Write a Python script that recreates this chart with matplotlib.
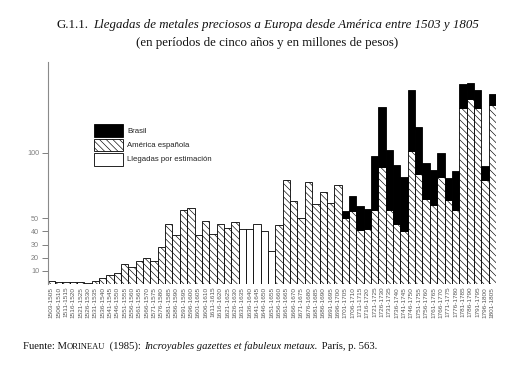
import matplotlib
matplotlib.use("Agg")
import matplotlib.pyplot as plt
import numpy as np
from matplotlib.patches import Rectangle

# ---------------- data ----------------
periods = [
    "1503-1505", "1506-1510", "1511-1515", "1516-1520", "1521-1525", "1526-1530",
    "1531-1535", "1536-1540", "1541-1545", "1546-1550", "1551-1555", "1556-1560",
    "1561-1565", "1566-1570", "1571-1575", "1576-1580", "1581-1585", "1586-1590",
    "1591-1595", "1596-1600", "1601-1605", "1606-1610", "1611-1615", "1616-1620",
    "1621-1625", "1626-1630", "1631-1635", "1636-1640", "1641-1645", "1646-1650",
    "1651-1655", "1656-1660", "1661-1665", "1666-1670", "1671-1675", "1676-1680",
    "1681-1685", "1686-1690", "1691-1695", "1696-1700", "1701-1705", "1706-1710",
    "1711-1715", "1716-1720", "1721-1725", "1726-1730", "1731-1735", "1736-1740",
    "1741-1745", "1746-1750", "1751-1755", "1756-1760", "1761-1765", "1766-1770",
    "1771-1775", "1776-1780", "1781-1785", "1786-1790", "1791-1795", "1796-1800",
    "1801-1805",
]

# América española (hatched), 0 where only an estimate exists
spanish = [
    2, 1.5, 1.5, 1.5, 1.5, 1, 2, 4.5, 7, 8,
    15, 13, 17.5, 19.5, 17.5, 28, 46, 37, 56, 58,
    37, 48, 38, 46, 42.5, 47, 0, 0, 0, 0,
    0, 45, 79.5, 63.5, 50.5, 77.5, 61, 70, 62, 75,
    50, 55.7, 41, 41.5, 56.5, 89, 56, 46, 40.5, 101,
    84, 64.5, 60.3, 81.5, 64, 56, 134, 140.5, 134, 79.5,
    136,
]

# Llegadas por estimación (white)
estimated = [
    0, 0, 0, 0, 0, 0, 0, 0, 0, 0,
    0, 0, 0, 0, 0, 0, 0, 0, 0, 0,
    0, 0, 0, 0, 0, 0, 41.5, 41.5, 46, 40,
    25, 0, 0, 0, 0, 0, 0, 0, 0, 0,
    0, 0, 0, 0, 0, 0, 0, 0, 0, 0,
    0, 0, 0, 0, 0, 0, 0, 0, 0, 0,
    0,
]

# Brasil (black, stacked on top)
brazil = [
    0, 0, 0, 0, 0, 0, 0, 0, 0, 0,
    0, 0, 0, 0, 0, 0, 0, 0, 0, 0,
    0, 0, 0, 0, 0, 0, 0, 0, 0, 0,
    0, 0, 0, 0, 0, 0, 0, 0, 0, 0,
    5.7, 11.3, 18, 15.5, 41, 46, 46.3, 44.3, 40.7, 47,
    35.6, 27.6, 26.7, 18.2, 16.7, 29.8, 18, 12.5, 13.6, 10.5,
    9,
]

yticks = [10, 20, 30, 40, 50, 100]

# ---------------- figure ----------------
W, H = 511, 374
plt.rcParams["hatch.linewidth"] = 0.45
fig = plt.figure(figsize=(W / 100, H / 100), dpi=100)
fig.patch.set_facecolor("white")

ax = fig.add_axes([47.5 / W, (H - 284) / H, (496 - 47.5) / W, (284 - 62) / H])

x = np.arange(len(periods))
sp = np.array(spanish, dtype=float)
es = np.array(estimated, dtype=float)
br = np.array(brazil, dtype=float)

m = sp > 0
ax.bar(x[m], sp[m], width=1.0, color="white", edgecolor="black",
       linewidth=0.6, hatch="\\\\\\\\\\")
m = es > 0
ax.bar(x[m], es[m], width=1.0, color="white", edgecolor="black", linewidth=0.6)
m = br > 0
ax.bar(x[m], br[m], bottom=sp[m], width=1.0, color="black",
       edgecolor="black", linewidth=0.6)

ax.set_xlim(-0.5, len(periods) - 0.5)
ax.set_ylim(0, 169)

ax.set_yticks(yticks)
ax.set_yticklabels([str(v) for v in yticks], fontsize=5.2, color="#808080",
                   family="Liberation Sans")
ax.tick_params(axis="y", direction="out", length=4.5, width=0.7,
               color="#808080", pad=1.5)

ax.set_xticks(x)
ax.set_xticklabels(periods, rotation=90, fontsize=4.6, color="#555555",
                   family="Liberation Sans")
ax.tick_params(axis="x", length=0, pad=2)

for s in ["top", "right", "bottom"]:
    ax.spines[s].set_visible(False)
ax.spines["left"].set_color("#8a8a8a")
ax.spines["left"].set_linewidth(0.8)

# ---------------- legend (drawn in figure pixels) ----------------
def fx(px):
    return px / W

def fy(py):
    return 1 - py / H

legend_items = [
    ("Brasil", dict(facecolor="black", edgecolor="black"), 124, 137),
    ("América española", dict(facecolor="white", edgecolor="black",
                              hatch="\\\\\\\\\\"), 139, 151),
    ("Llegadas por estimación", dict(facecolor="white", edgecolor="black"), 153, 166),
]
for label, style, y0, y1 in legend_items:
    r = Rectangle((fx(94), fy(y1)), fx(123) - fx(94), fy(y0) - fy(y1),
                  transform=fig.transFigure, linewidth=0.6, **style)
    fig.add_artist(r)
    fig.text(fx(127), fy((y0 + y1) / 2 + 0.5), label, fontsize=5.6,
             color="#222222", family="Liberation Sans", va="center", ha="left")

# ---------------- rich text helper ----------------
renderer = fig.canvas.get_renderer()

def place_pieces(pieces, x_px, y_px, align="left", gap=None):
    texts = []
    for s, kw in pieces:
        t = fig.text(0, fy(y_px), s, ha="left", va="baseline", **kw)
        texts.append(t)
    widths = [t.get_window_extent(renderer).width for t in texts]
    gaps = gap if gap is not None else [0] * len(texts)
    total = sum(widths) + sum(gaps[:-1])
    if align == "center":
        cur = x_px - total / 2
    else:
        cur = x_px
    for t, w, g in zip(texts, widths, gaps):
        t.set_x(fx(cur))
        cur += w + g

serif = "Liberation Serif"
place_pieces(
    [("G.1.1.", dict(fontsize=9.3, family=serif, color="#111111")),
     ("Llegadas de metales preciosos a Europa desde América entre 1503 y 1805",
      dict(fontsize=9.3, family=serif, style="italic", color="#111111"))],
    268, 28, align="center", gap=[5, 0])

place_pieces(
    [("(en períodos de cinco años y en millones de pesos)",
      dict(fontsize=9.3, family=serif, color="#111111"))],
    267, 46, align="center")

place_pieces(
    [("Fuente: M", dict(fontsize=7.7, family=serif, color="#111111")),
     ("ORINEAU", dict(fontsize=6.1, family=serif, color="#111111")),
     (" (1985): ", dict(fontsize=7.7, family=serif, color="#111111")),
     ("Incroyables gazettes et fabuleux metaux.",
      dict(fontsize=7.7, family=serif, style="italic", color="#111111")),
     (" París, p. 563.", dict(fontsize=7.7, family=serif, color="#111111"))],
    23, 349, align="left", gap=[0, 2, 0, 2, 0])

fig.savefig("out.png", dpi=100, facecolor="white")
